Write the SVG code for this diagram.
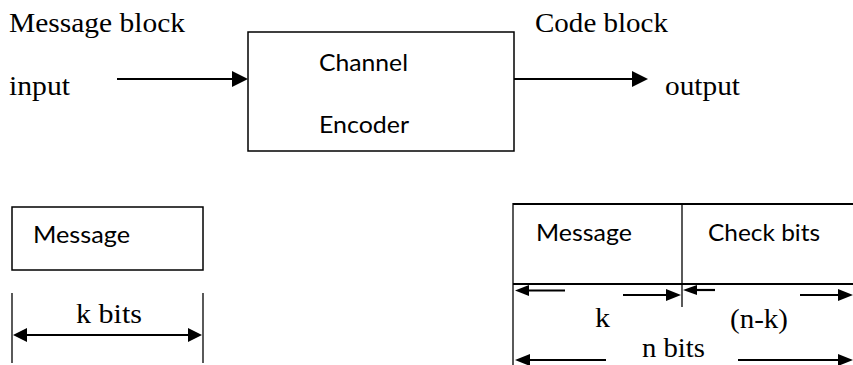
<svg xmlns="http://www.w3.org/2000/svg" width="853" height="365" viewBox="0 0 853 365">
<style>
.serif{font-family:"Liberation Serif","Times New Roman",serif;font-size:28px;fill:#000}
.sans{font-family:Lato,"Open Sans","Liberation Sans",sans-serif;font-size:24px;fill:#000}
.box{fill:#fff;stroke:#000;stroke-width:1.5}
.ln{stroke:#000;stroke-width:2.2;fill:none}
.thin{stroke:#000;stroke-width:1.3;fill:none}
.head{fill:#000}
</style>
<rect width="853" height="365" fill="#fff"/>
<g id="labels">
<text class="serif" x="9" y="32" textLength="176" lengthAdjust="spacingAndGlyphs">Message block</text>
<text class="serif" x="9" y="95" textLength="61" lengthAdjust="spacingAndGlyphs">input</text>
<text class="serif" x="535" y="32" textLength="133" lengthAdjust="spacingAndGlyphs">Code block</text>
<text class="serif" x="665" y="95" textLength="75" lengthAdjust="spacingAndGlyphs">output</text>
</g>
<g id="encoder">
<rect class="box" x="248" y="32" width="266" height="119"/>
<text class="sans" x="319" y="71" textLength="89" lengthAdjust="spacingAndGlyphs">Channel</text>
<text class="sans" x="319" y="133" textLength="90" lengthAdjust="spacingAndGlyphs">Encoder</text>
</g>
<g id="connectors">
<line class="ln" x1="117" y1="79" x2="234" y2="79"/>
<polygon class="head" points="248,79 232,71 232,87"/>
<line class="ln" x1="514" y1="79" x2="633" y2="79"/>
<polygon class="head" points="648,79 632,71 632,87"/>
</g>
<g id="message-block">
<rect class="box" x="12" y="207" width="191" height="63"/>
<text class="sans" x="33" y="243" textLength="97" lengthAdjust="spacingAndGlyphs">Message</text>
</g>
<g id="k-bits-dimension">
<line class="thin" x1="12" y1="293" x2="12" y2="363"/>
<line class="thin" x1="203" y1="293" x2="203" y2="363"/>
<line class="ln" x1="24" y1="335" x2="191" y2="335"/>
<polygon class="head" points="13,335 27,328 27,342"/>
<polygon class="head" points="202,335 188,328 188,342"/>
<text class="serif" x="76" y="323" textLength="66" lengthAdjust="spacingAndGlyphs">k bits</text>
</g>
<g id="code-block">
<line class="ln" x1="513" y1="204" x2="853" y2="204"/>
<line class="ln" x1="513" y1="284" x2="853" y2="284"/>
<line class="thin" x1="513" y1="203" x2="513" y2="365"/>
<line class="thin" x1="682" y1="203" x2="682" y2="307"/>
<text class="sans" x="536" y="241" textLength="96" lengthAdjust="spacingAndGlyphs">Message</text>
<text class="sans" x="708" y="241" textLength="112" lengthAdjust="spacingAndGlyphs">Check bits</text>
</g>
<g id="n-bits-dimension">
<line class="ln" x1="527" y1="290.5" x2="565" y2="290.5"/>
<polygon class="head" points="515,290.5 529,285 529,296"/>
<line class="ln" x1="623" y1="295" x2="668" y2="295"/>
<polygon class="head" points="681,295 666,289 666,301"/>
<line class="ln" x1="695" y1="290" x2="715" y2="290"/>
<polygon class="head" points="683,290 697,285 697,295"/>
<line class="ln" x1="800" y1="295" x2="840" y2="295"/>
<polygon class="head" points="853,295 838,289 838,301"/>
<text class="serif" x="595" y="327" textLength="15" lengthAdjust="spacingAndGlyphs">k</text>
<text class="serif" x="730" y="328" textLength="58" lengthAdjust="spacingAndGlyphs">(n-k)</text>
<line class="ln" x1="528" y1="360" x2="606" y2="360"/>
<polygon class="head" points="515,360 530,354 530,366"/>
<line class="ln" x1="738" y1="360" x2="840" y2="360"/>
<polygon class="head" points="853,360 838,354 838,366"/>
<text class="serif" x="642" y="357" textLength="63" lengthAdjust="spacingAndGlyphs">n bits</text>
</g>
</svg>
